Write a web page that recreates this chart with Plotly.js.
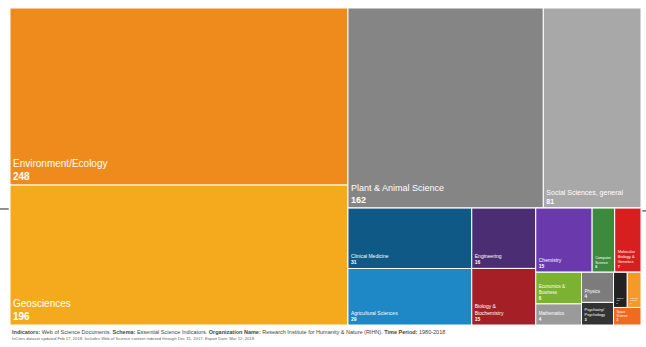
<!DOCTYPE html>
<html><head><meta charset="utf-8">
<script src="https://cdn.plot.ly/plotly-3.0.1.min.js"></script>
<style>html,body{margin:0;padding:0;background:#fff}#chart{width:646px;height:347px}</style>
</head><body><div id="chart"></div>
<script>
// Layout groups (invisible structural nodes for slice-dice tiling)
const groupIds     = ['root','L','R','RT','RB','C1','C2','C3','C3T','C3B','CA','CB','CC','CCT'];
const groupParents = ['',    'root','root','R','R','RB','RB','RB','C3','C3','C3B','C3B','C3B','CC'];

// Research fields (leaves)
const fields = ['Environment/Ecology','Geosciences','Plant & Animal Science','Social Sciences, general',
  'Clinical Medicine','Agricultural Sciences','Engineering','Biology & Biochemistry',
  'Chemistry','Computer Science','Molecular Biology & Genetics',
  'Economics & Business','Mathematics','Physics','Psychiatry/Psychology',
  'Immunology','Materials Science','Space Science'];
// wrapped display names, as drawn in the tiles
const fieldText = ['Environment/Ecology','Geosciences','Plant & Animal Science','Social Sciences, general',
  'Clinical Medicine','Agricultural Sciences','Engineering','Biology &<br>Biochemistry',
  'Chemistry','Computer<br>Science','Molecular<br>Biology &<br>Genetics',
  'Economics &<br>Business','Mathematics','Physics','Psychiatry/<br>Psychology',
  'Immuno-<br>logy','Materials<br>Science','Space<br>Science'];
const fieldValues = [248,196,162,81, 31,29,16,15, 15,6,7, 6,4,4,3, 2,2,2];
const fieldGroup  = ['L','L','RT','RT','C1','C1','C2','C2','C3T','C3T','C3T','CA','CA','CB','CB','CCT','CCT','CC'];
const fieldColors = ['#EF8A1D','#F5AA1E','#858585','#A8A8A8',
  '#0F5986','#1E87C6','#4A2D72','#A51F26',
  '#6A3AAD','#3D8A3E','#D81F1F',
  '#7BB231','#9A9A9A','#7C7C7C','#333333',
  '#222222','#F39A2B','#F06A1F'];
const fieldFontSizes = [10,10,9,7, 5,5,5,5, 5,4,4, 4.5,4.5,4.5,4, 3.5,3.5,3.5];

const ids = groupIds.concat(fields);
const labels = groupIds.map(()=>' ').concat(fields);
const texts = groupIds.map(()=>' ').concat(fieldText);
const parents = groupParents.concat(fieldGroup);
const values = groupIds.map(()=>0).concat(fieldValues);
const colors = groupIds.map(()=>'#ffffff').concat(fieldColors);
const templates = groupIds.map(()=>' ').concat(fields.map(()=>'%{text}<br><b>%{value}</b>'));
const sizes = groupIds.map(()=>4).concat(fieldFontSizes);

const footer1 = '<b>Indicators:</b> Web of Science Documents. <b>Schema:</b> Essential Science Indicators. <b>Organization Name:</b> Research Institute for Humanity &amp; Nature (RIHN). <b>Time Period:</b> 1980-2018';
const footer2 = 'InCites dataset updated Feb 17, 2018. Includes Web of Science content indexed through Dec 31, 2017. Export Date: Mar 12, 2018.';

Plotly.newPlot('chart', [{
  type: 'treemap',
  ids: ids, labels: labels, parents: parents, values: values, text: texts,
  branchvalues: 'remainder', sort: false,
  tiling: {packing: 'slice-dice', pad: 0},
  marker: {colors: colors, line: {width: 1, color: '#ffffff'}, pad: {t: 0, l: 0, r: 0, b: 0}},
  texttemplate: templates,
  textposition: 'bottom left',
  textfont: {family: 'Liberation Sans, Arial, sans-serif', size: sizes, color: '#ffffff'},
  pathbar: {visible: false},
  hoverinfo: 'label+value'
}], {
  width: 646, height: 347,
  margin: {l: 10, r: 5, t: 8, b: 22},
  paper_bgcolor: '#ffffff',
  font: {family: 'Liberation Sans, Arial, sans-serif'},
  annotations: [
    {xref: 'paper', yref: 'paper', x: 0, y: -0.007, xanchor: 'left', yanchor: 'top', showarrow: false,
     text: footer1, font: {size: 5.5, color: '#444444'}},
    {xref: 'paper', yref: 'paper', x: 0, y: -0.028, xanchor: 'left', yanchor: 'top', showarrow: false,
     text: footer2, font: {size: 4.2, color: '#666666'}}
  ],
  shapes: [
    {type: 'line', xref: 'paper', yref: 'paper', x0: -0.016, x1: -0.002, y0: 0.366, y1: 0.366, line: {color: '#222', width: 1}},
    {type: 'line', xref: 'paper', yref: 'paper', x0: 1.002, x1: 1.01, y0: 0.36, y1: 0.36, line: {color: '#222', width: 1}}
  ]
}, {displayModeBar: false, staticPlot: true});
</script>
</body></html>
